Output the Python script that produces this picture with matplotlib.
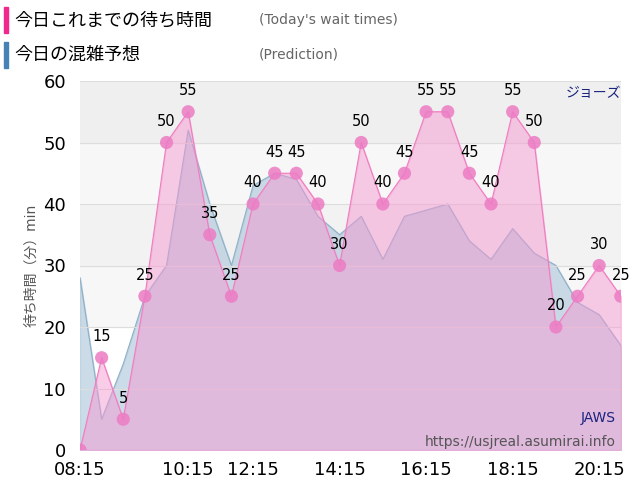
import matplotlib.pyplot as plt
import numpy as np

plt.rcParams['font.family'] = ['DejaVu Sans', 'Noto Sans CJK JP']

times = ['08:15', '08:45', '09:15', '09:30', '09:45', '10:15', '10:45', '11:30',
         '12:15', '12:45', '13:15', '13:45', '14:15', '14:45', '15:15', '15:45',
         '16:15', '16:45', '17:15', '17:45', '18:15', '18:45', '19:15', '19:45',
         '20:15', '20:45']
shown = ['08:15', '10:15', '12:15', '14:15', '16:15', '18:15', '20:15']
actual = [0, 15, 5, 25, 50, 55, 35, 25, 40, 45, 45, 40, 30, 50, 40, 45,
          55, 55, 45, 40, 55, 50, 20, 25, 30, 25]
predict = [28, 5, 14, 25, 30, 52, 40, 30, 43, 45, 44, 38, 35, 38, 31, 38,
           39, 40, 34, 31, 36, 32, 30, 24, 22, 17]

x = np.arange(len(times))

fig = plt.figure(figsize=(6.4, 5.0), dpi=100)
ax = fig.add_axes([0.125, 0.1, 0.845, 0.738])

for i, c in enumerate(['#ffffff', '#ffffff', '#f7f7f7', '#f2f2f2', '#f7f7f7', '#efefef']):
    ax.axhspan(i * 10, i * 10 + 10, color=c, zorder=0)

ax.fill_between(x, predict, color='#a9c4d9', alpha=0.6, zorder=1)
ax.plot(x, predict, color='#8fb0c8', lw=0.8, zorder=1)
ax.fill_between(x, actual, color='#f59ad2', alpha=0.5, zorder=2)
ax.plot(x, actual, color='#f07cc0', lw=0.8, zorder=2)
ax.scatter(x, actual, s=90, color='#ec7cc4', alpha=0.85, zorder=3, edgecolors='none')
for xi, v in zip(x, actual):
    if v > 0:
        ax.text(xi, v + 2.2, str(v), ha='center', va='bottom', fontsize=10.5, zorder=4)

ax.set_xlim(0, len(times) - 1)
ax.set_ylim(0, 60)
ax.set_yticks(range(0, 61, 10))
ax.set_xticks([times.index(t) for t in shown])
ax.set_xticklabels(shown)
ax.tick_params(labelsize=13, length=0)
ax.tick_params(axis='y', pad=10)
ax.tick_params(axis='x', pad=8)
ax.grid(axis='y', color='#dddddd', lw=0.8)
for s in ax.spines.values():
    s.set_visible(False)
ax.set_ylabel('待ち時間（分）min', fontsize=10, color='#555555')

ax.text(0.99, 0.075, 'JAWS', transform=ax.transAxes, ha='right', fontsize=10, color='#1a237e')
ax.text(0.99, 0.01, 'https://usjreal.asumirai.info', transform=ax.transAxes,
        ha='right', fontsize=10, color='#555555')
fig.text(0.97, 0.805, 'ジョーズ', ha='right', fontsize=10, color='#1a237e',
         family=['Noto Sans CJK JP'])

fig.patches.append(plt.Rectangle((0.006, 0.935), 0.007, 0.05, transform=fig.transFigure,
                                 color='#f0288c'))
fig.patches.append(plt.Rectangle((0.006, 0.865), 0.007, 0.05, transform=fig.transFigure,
                                 color='#4682b4'))
fig.text(0.022, 0.96, '今日これまでの待ち時間', fontsize=13, va='center',
         family=['Noto Sans CJK JP'])
fig.text(0.405, 0.96, "(Today's wait times)", fontsize=10, va='center', color='#666666')
fig.text(0.022, 0.89, '今日の混雑予想', fontsize=13, va='center',
         family=['Noto Sans CJK JP'])
fig.text(0.405, 0.89, '(Prediction)', fontsize=10, va='center', color='#666666')

fig.savefig('out.png', dpi=100)
